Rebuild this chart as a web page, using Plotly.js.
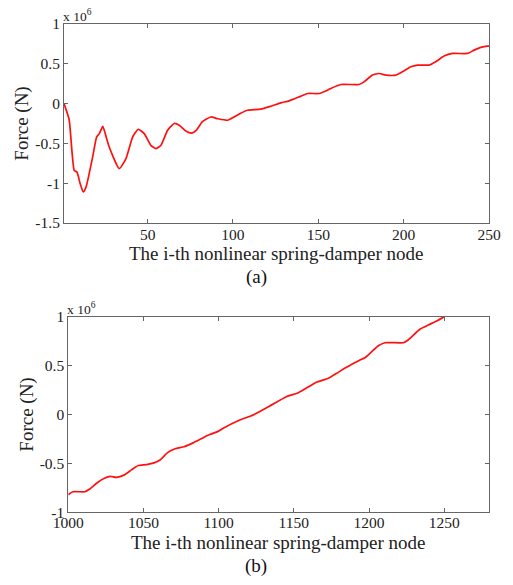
<!DOCTYPE html>
<html>
<head>
<meta charset="utf-8">
<script src="https://cdn.plot.ly/plotly-3.0.1.min.js"></script>
<style>html,body{margin:0;padding:0;background:#fff;}#chart{width:513px;height:585px;}</style>
</head>
<body>
<div id="chart"></div>
<script>
// Panel (a): node index vs force (x 10^6 N)
const nodeA = [1, 4, 7, 8.6, 10.4, 12.3, 13.9, 17.8, 20.1, 21.7, 23.7, 24.6, 27.5, 33.4, 37.3, 41.2, 44.5, 48, 51.9, 54.9, 57.8, 61.7, 65.6, 68.5, 72.4, 75.8, 78.5, 82, 87, 91, 96.8, 100.6, 104.5, 108.5, 116.3, 122.2, 128, 132.8, 138.8, 143.7, 150.5, 155.4, 157.3, 163.2, 173.9, 176.8, 181.7, 185.6, 189.5, 195.4, 199.3, 204.2, 208.1, 214.9, 218.8, 223.7, 228.6, 237.4, 241.3, 245.2, 249, 250];
const forceA = [0, -0.2, -0.84, -0.86, -1.0, -1.11, -1.05, -0.67, -0.42, -0.377, -0.285, -0.335, -0.545, -0.817, -0.69, -0.42, -0.322, -0.377, -0.524, -0.565, -0.524, -0.335, -0.25, -0.272, -0.344, -0.37, -0.335, -0.23, -0.168, -0.19, -0.209, -0.168, -0.12, -0.083, -0.07, -0.033, 0.009, 0.034, 0.084, 0.127, 0.127, 0.169, 0.19, 0.24, 0.24, 0.273, 0.358, 0.378, 0.358, 0.358, 0.4, 0.463, 0.484, 0.484, 0.526, 0.597, 0.63, 0.63, 0.672, 0.706, 0.722, 0.722];

// Panel (b): node index vs force (x 10^6 N)
const nodeB = [1000, 1003, 1011, 1014, 1019, 1024, 1028, 1032, 1037, 1042, 1046.5, 1052, 1057, 1061, 1066, 1071, 1077, 1083, 1089, 1094, 1100, 1103, 1114, 1123, 1134, 1145, 1153, 1160.7, 1165, 1173, 1178.5, 1183, 1188, 1194, 1197.3, 1201.8, 1206.2, 1210.6, 1222.8, 1226, 1234, 1239.4, 1245, 1250];
const forceB = [-0.82, -0.79, -0.79, -0.765, -0.70, -0.652, -0.632, -0.642, -0.62, -0.566, -0.522, -0.512, -0.495, -0.465, -0.39, -0.35, -0.33, -0.29, -0.243, -0.205, -0.17, -0.141, -0.056, -0.005, 0.087, 0.182, 0.223, 0.291, 0.329, 0.37, 0.421, 0.466, 0.508, 0.557, 0.581, 0.642, 0.703, 0.734, 0.734, 0.762, 0.874, 0.915, 0.956, 1.0];

// Tick labels
const xTicksA = [50, 100, 150, 200, 250];
const yTicksA = [-1.5, -1, -0.5, 0, 0.5, 1];
const yTextA = ['-1.5', '-1', '-0.5', '0', '0.5', '1'];
const xTicksB = [1000, 1050, 1100, 1150, 1200, 1250];
const yTicksB = [-1, -0.5, 0, 0.5, 1];
const yTextB = ['-1', '-0.5', '0', '0.5', '1'];

const xTitle = 'The i-th nonlinear spring-damper node';
const yTitle = 'Force (N)';

const FONT = 'Liberation Serif, Times New Roman, serif';
const axisCommon = {
  showline: true, linecolor: '#666', linewidth: 1, mirror: 'ticks',
  ticks: 'inside', ticklen: 4, tickcolor: '#666', showgrid: false, zeroline: false,
  tickfont: {family: FONT, size: 15.5, color: '#222'}
};
const lineStyle = {color: '#ff1010', width: 1.7, shape: 'spline', smoothing: 0.5};

const traces = [
  {x: nodeA, y: forceA, type: 'scatter', mode: 'lines', line: lineStyle, xaxis: 'x', yaxis: 'y', hoverinfo: 'skip'},
  {x: nodeB, y: forceB, type: 'scatter', mode: 'lines', line: lineStyle, xaxis: 'x2', yaxis: 'y2', hoverinfo: 'skip'}
];

const titleFont = {family: FONT, size: 19, color: '#222'};

const layout = {
  width: 513, height: 585,
  margin: {l: 0, r: 0, t: 0, b: 0},
  paper_bgcolor: '#fff', plot_bgcolor: '#fff',
  showlegend: false,
  font: {family: FONT, color: '#222'},
  xaxis: Object.assign({}, axisCommon, {
    domain: [64/513, 489/513], range: [1, 250], tickvals: xTicksA, anchor: 'y', ticklabelstandoff: -3
  }),
  yaxis: Object.assign({}, axisCommon, {
    domain: [(585-223)/585, (585-24)/585], range: [-1.5, 1], tickvals: yTicksA, ticktext: yTextA, anchor: 'x',
    title: {text: yTitle, font: titleFont, standoff: 1}
  }),
  xaxis2: Object.assign({}, axisCommon, {
    domain: [68.3/513, 489.3/513], range: [1000, 1280], tickvals: xTicksB, anchor: 'y2', ticklabelstandoff: -4
  }),
  yaxis2: Object.assign({}, axisCommon, {
    domain: [(585-512.3)/585, (585-316.7)/585], range: [-1, 1], tickvals: yTicksB, ticktext: yTextB, anchor: 'x2',
    title: {text: yTitle, font: titleFont, standoff: 1}
  }),
  annotations: [
    {text: xTitle, xref: 'paper', yref: 'paper', x: 276/513, y: (585-253)/585, xanchor: 'center', yanchor: 'middle', showarrow: false, font: titleFont},
    {text: xTitle, xref: 'paper', yref: 'paper', x: 278/513, y: (585-542)/585, xanchor: 'center', yanchor: 'middle', showarrow: false, font: titleFont},
    {text: 'x 10<sup>6</sup>', xref: 'paper', yref: 'paper', x: 64/513, y: (585-24)/585, xanchor: 'left', yanchor: 'bottom', showarrow: false, font: {family: FONT, size: 13.5, color: '#222'}, xshift: -3, yshift: -2},
    {text: 'x 10<sup>6</sup>', xref: 'paper', yref: 'paper', x: 68.3/513, y: (585-316.7)/585, xanchor: 'left', yanchor: 'bottom', showarrow: false, font: {family: FONT, size: 13.5, color: '#222'}, xshift: -3, yshift: -2},
    {text: '(a)', xref: 'paper', yref: 'paper', x: 256/513, y: (585-277)/585, xanchor: 'center', yanchor: 'middle', showarrow: false, font: {family: FONT, size: 19, color: '#111'}},
    {text: '(b)', xref: 'paper', yref: 'paper', x: 256/513, y: (585-566)/585, xanchor: 'center', yanchor: 'middle', showarrow: false, font: {family: FONT, size: 19, color: '#111'}}
  ]
};

Plotly.newPlot('chart', traces, layout, {staticPlot: true, displayModeBar: false});
</script>
</body>
</html>
